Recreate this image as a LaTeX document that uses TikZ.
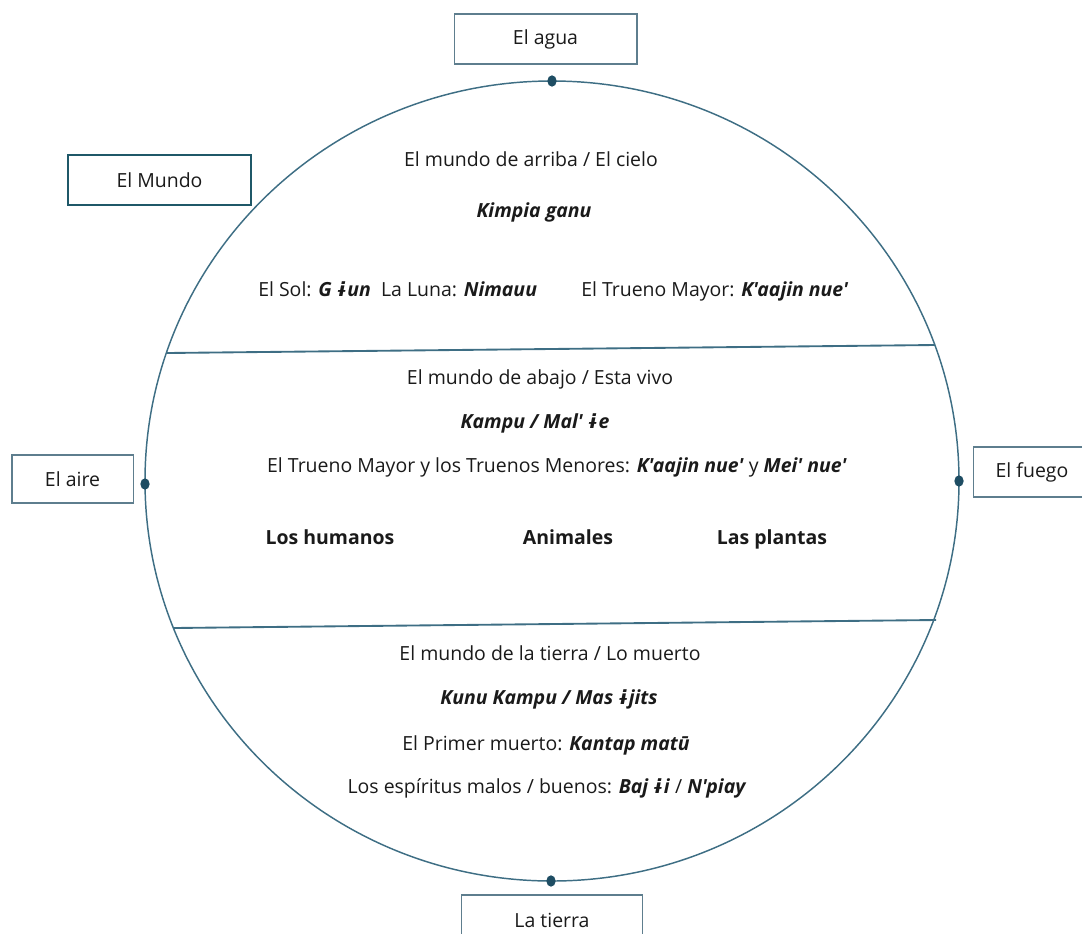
\documentclass[tikz,border=0pt]{standalone}
\usepackage{fontspec}
\newfontfamily\myfont{Open Sans}
\newfontfamily\fbk{DejaVu Sans}
\usetikzlibrary{shapes.geometric}
\definecolor{ring}{HTML}{3E6E84}
\definecolor{dotc}{HTML}{1E4D63}
\definecolor{boxc}{HTML}{5E7E8E}
\definecolor{mundoc}{HTML}{1F5868}
\definecolor{txt}{HTML}{1A1A1A}
\newcommand{\bi}[1]{\textbf{\textit{#1}}}
\newcommand{\iy}{{\fbk\bfseries\itshape ɨ}}
\begin{document}
\begin{tikzpicture}[x=0.75pt,y=-0.75pt,
  every node/.style={text=txt,font=\myfont\fontsize{14.6}{17}\selectfont,inner sep=0pt},
  tx/.style={text height=11pt,text depth=3.5pt},
  lbl/.style={draw=boxc,line width=1pt,fill=white,minimum height=37.5pt},
  dotn/.style={fill=dotc,draw=none,ellipse,minimum width=7pt,minimum height=8.5pt,inner sep=0pt},
  divider/.style={draw=ring,line width=1.4pt}]
\useasboundingbox (0,0) rectangle (1082,933);
% ring
\draw[ring,line width=1.1pt] (552,481) ellipse [x radius=407, y radius=400];
% dividers
\coordinate (d1l) at (167,353);
\coordinate (d1r) at (935,345);
\coordinate (d2l) at (174,628);
\coordinate (d2r) at (936,620);
\draw[divider] (d1l) -- (d1r);
\draw[divider] (d2l) -- (d2r);
% dots
\node[dotn] (dt) at (552,81) {};
\node[dotn] (db) at (551,881) {};
\node[dotn] (dl) at (145,484) {};
\node[dotn] (dr) at (959,481) {};
% boxes
\node[lbl,minimum width=137pt] (agua) at (545.5,39) {El agua};
\node[draw=mundoc,line width=1.6pt,fill=white,minimum width=137pt,minimum height=37pt] (mundo) at (159.5,180) {El Mundo};
\node[lbl,minimum width=91pt,minimum height=36pt] (aire) at (72.5,479) {El aire};
\node[lbl,minimum width=88pt,minimum height=37.5pt] (fuego) at (1032,472) {El fuego};
\node[lbl,minimum width=136pt] (tierra) at (552,920) {La tierra};
% upper world
\node[tx] (t1) at (531,161) {El mundo de arriba / El cielo};
\node[tx] (t2) at (534,212) {\bi{Kimpia ganu}};
\node[tx,anchor=west] (t3) at (258,291) {El Sol: \bi{G \iy un}\ \ La Luna: \bi{Nimauu}};
\node[tx,anchor=west] (t4) at (581,291) {El Trueno Mayor: \bi{K'aajin nue'}};
% middle world
\node[tx] (m1) at (540,379) {El mundo de abajo / Esta vivo};
\node[tx] (m2) at (535,423) {\bi{Kampu / Mal' \iy e}};
\node[tx] (m3) at (557,467) {El Trueno Mayor y los Truenos Menores: \bi{K'aajin nue'} y \bi{Mei' nue'}};
\node[tx] (m4) at (330,539) {\textbf{Los humanos}};
\node[tx] (m5) at (568,539) {\textbf{Animales}};
\node[tx] (m6) at (772,539) {\textbf{Las plantas}};
% lower world
\node[tx] (b1) at (550,655) {El mundo de la tierra / Lo muerto};
\node[tx] (b2) at (549,699) {\bi{Kunu Kampu / Mas \iy jits}};
\node[tx] (b3) at (546,745) {El Primer muerto: \bi{Kantap matū}};
\node[tx] (b4) at (547,788) {Los espíritus malos / buenos: \bi{Baj \iy i} / \bi{N'piay}};
\end{tikzpicture}
\end{document}
